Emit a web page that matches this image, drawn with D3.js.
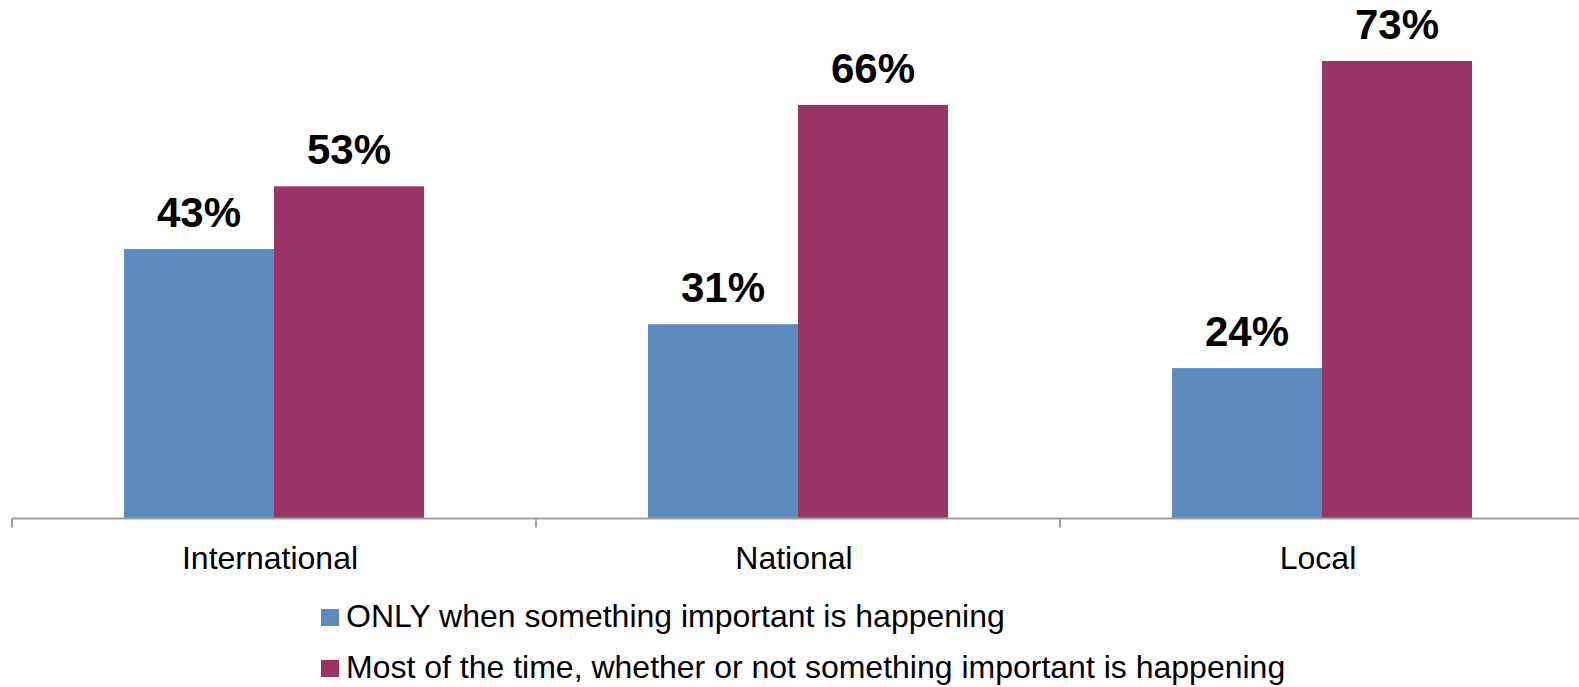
<!DOCTYPE html>
<html><head><meta charset="utf-8">
<script src="https://cdn.jsdelivr.net/npm/d3@7"></script>
<style>body{margin:0;background:#fff}svg{display:block}</style>
</head><body>
<svg id="c" width="1579" height="687"></svg>
<script>
const categories = ["International", "National", "Local"];
const seriesNames = ["ONLY when something important is happening", "Most of the time, whether or not something important is happening"];
const onlyWhenImportant = [43, 31, 24];
const mostOfTheTime = [53, 66, 73];
const seriesValues = [onlyWhenImportant, mostOfTheTime];
const colors = ["#5E8BBE", "#993464"];

const svg = d3.select("#c");
const font = "'Liberation Sans', Arial, sans-serif";
const axisY = 518.5;
const x0 = d3.scaleBand().domain(categories).range([12, 1584]).padding(0);
const barW = 150;
const x1 = d3.scaleBand().domain(seriesNames)
  .range([x0.bandwidth()/2 - barW, x0.bandwidth()/2 + barW]).padding(0);
const y = d3.scaleLinear().domain([0, 100]).range([axisY, axisY - 626.7]);

const rows = categories.map((c, i) => ({cat: c, vals: seriesNames.map((s, j) => ({s, j, v: seriesValues[j][i]}))}));

const g = svg.append("g");
const grp = g.selectAll("g.grp").data(rows).join("g")
  .attr("transform", d => `translate(${x0(d.cat)},0)`);
grp.selectAll("rect").data(d => d.vals).join("rect")
  .attr("x", d => x1(d.s)).attr("width", x1.bandwidth())
  .attr("y", d => y(d.v)).attr("height", d => axisY - y(d.v))
  .attr("fill", d => colors[d.j]);
grp.selectAll("text").data(d => d.vals).join("text")
  .attr("x", d => x1(d.s) + x1.bandwidth()/2)
  .attr("y", d => y(d.v) - 22)
  .attr("text-anchor", "middle")
  .attr("font-family", font).attr("font-weight", "bold").attr("font-size", 42)
  .attr("fill", "#000")
  .text(d => d.v + "%");

// axis
const ax = svg.append("g").attr("transform", `translate(0,${axisY})`)
  .call(d3.axisBottom(x0).tickSize(0).tickPadding(0));
ax.select(".domain").attr("stroke", "#a0a0a0").attr("stroke-width", 2)
  .attr("d", `M${x0.range()[0]},0H${x0.range()[1]}`);
ax.selectAll(".tick text").attr("font-family", font).attr("font-size", 32)
  .attr("fill", "#000").attr("dy", null).attr("y", 50).attr("dx", -4);
const tickX = categories.map(c => x0(c)).concat([x0.range()[1]]);
svg.append("g").selectAll("line").data(tickX).join("line")
  .attr("x1", d => d).attr("x2", d => d)
  .attr("y1", axisY).attr("y2", axisY + 9)
  .attr("stroke", "#a0a0a0").attr("stroke-width", 2);

// legend
const leg = svg.append("g").attr("transform", "translate(321,0)");
const li = leg.selectAll("g").data(seriesNames).join("g")
  .attr("transform", (d, i) => `translate(0,${609 + i * 51})`);
li.append("rect").attr("width", 18).attr("height", 17).attr("fill", (d, i) => colors[i]);
li.append("text").attr("x", 25).attr("y", 18)
  .attr("font-family", font).attr("font-size", 32).attr("fill", "#000").text(d => d);
</script>
</body></html>
